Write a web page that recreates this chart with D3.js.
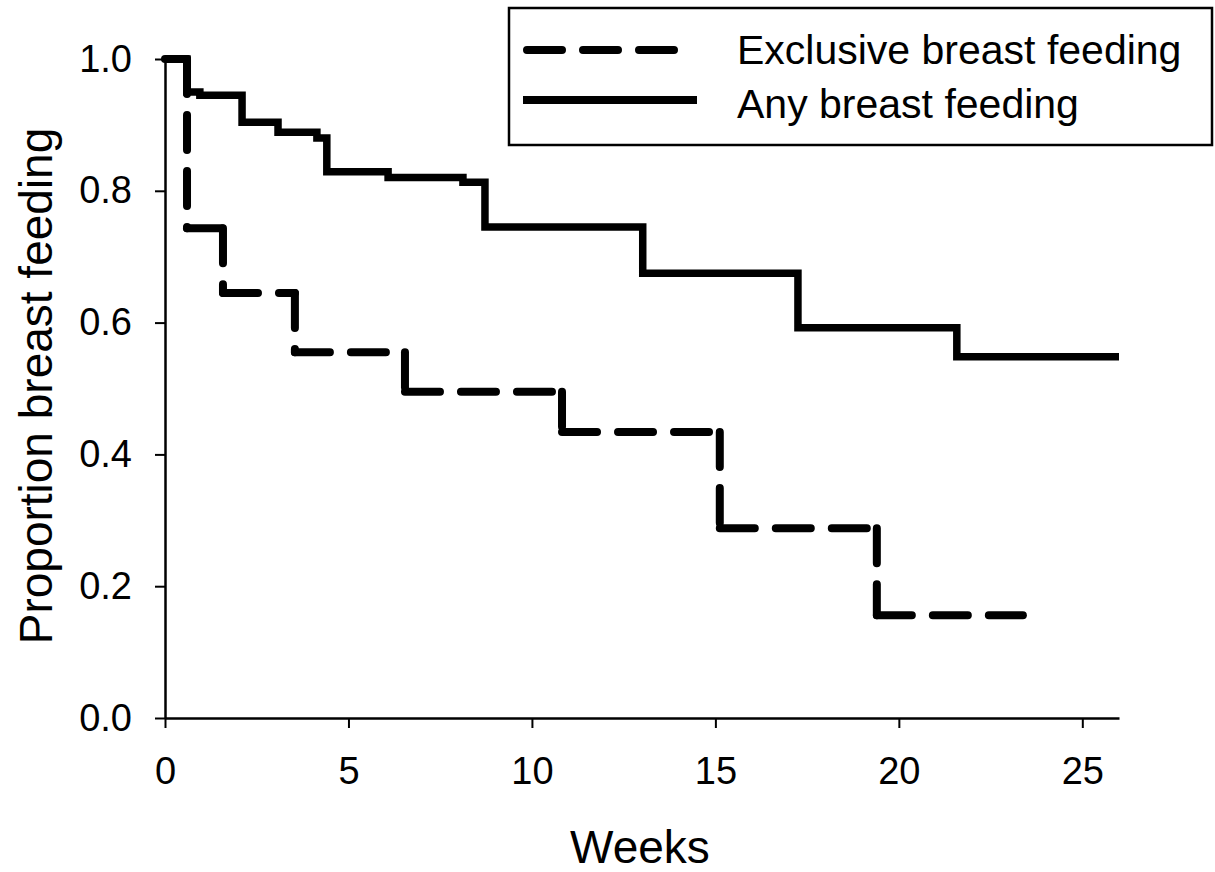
<!DOCTYPE html>
<html>
<head>
<meta charset="utf-8">
<script src="https://cdn.jsdelivr.net/npm/d3@7"></script>
<style>
  body { margin: 0; background: #fff; }
  svg { display: block; font-family: "Liberation Sans", Arial, sans-serif; }
</style>
</head>
<body>
<div id="chart"></div>
<script>
// Kaplan-Meier style step data
var anyWeeks = [0, 0.6, 0.95, 2.1, 3.08, 4.14, 4.41, 6.08, 8.12, 8.72, 13.02, 17.25, 21.58, 26]
var anyProp = [1.0, 0.95, 0.945, 0.904, 0.889, 0.88, 0.829, 0.82, 0.813, 0.745, 0.675, 0.592, 0.548, 0.548]

var exclWeeks = [0, 0.6, 1.58, 3.54, 6.54, 10.82, 15.12, 19.4, 23.38]
var exclProp = [1.0, 0.743, 0.645, 0.555, 0.495, 0.434, 0.288, 0.156, 0.156]

var xTicks = [0, 5, 10, 15, 20, 25]
var yTicks = [0, 0.2, 0.4, 0.6, 0.8, 1.0]
var legendLabels = ['Exclusive breast feeding', 'Any breast feeding']

var width = 1215
var height = 872

var svg = d3
  .select('#chart')
  .append('svg')
  .attr('width', width)
  .attr('height', height)

var x = d3.scaleLinear().domain([0, 26]).range([165, 1119])
var y = d3.scaleLinear().domain([0, 1]).range([718, 59])

// axes
var yAxis = svg
  .append('g')
  .attr('transform', 'translate(' + x(0) + ',0)')
  .call(
    d3.axisLeft(y)
      .tickValues(yTicks)
      .tickFormat(d3.format('.1f'))
      .tickSize(10)
      .tickSizeOuter(0)
      .tickPadding(23)
  )

var xAxis = svg
  .append('g')
  .attr('transform', 'translate(0,' + y(0) + ')')
  .call(
    d3.axisBottom(x)
      .tickValues(xTicks)
      .tickSize(10)
      .tickSizeOuter(0)
      .tickPadding(29)
  )

svg.selectAll('.domain').attr('stroke', '#000').attr('stroke-width', 2.5)
svg.selectAll('.tick line').attr('stroke', '#000').attr('stroke-width', 2)
svg
  .selectAll('.tick text')
  .attr('fill', '#000')
  .attr('font-size', 38)
  .attr('font-family', '"Liberation Sans", Arial, sans-serif')

// axis titles
svg
  .append('text')
  .attr('x', 640)
  .attr('y', 863)
  .attr('text-anchor', 'middle')
  .attr('font-size', 46)
  .text('Weeks')

svg
  .append('text')
  .attr('transform', 'translate(52,' + 386 + ') rotate(-90)')
  .attr('text-anchor', 'middle')
  .attr('font-size', 46)
  .text('Proportion breast feeding')

// any breast feeding: solid step line
var line = d3
  .line()
  .x(d => x(d[0]))
  .y(d => y(d[1]))

var stepLine = d3
  .line()
  .x(d => x(d[0]))
  .y(d => y(d[1]))
  .curve(d3.curveStepAfter)

svg
  .append('path')
  .datum(d3.zip(anyWeeks, anyProp))
  .attr('d', stepLine)
  .attr('fill', 'none')
  .attr('stroke', '#000')
  .attr('stroke-width', 7.5)
  .attr('stroke-linejoin', 'miter')

// exclusive breast feeding: dashed, each piece of the step starts a new dash
var exclSegments = []
for (var i = 0; i < exclWeeks.length - 1; i++) {
  exclSegments.push([[exclWeeks[i], exclProp[i]], [exclWeeks[i + 1], exclProp[i]]])
  if (exclProp[i + 1] !== exclProp[i]) {
    exclSegments.push([[exclWeeks[i + 1], exclProp[i]], [exclWeeks[i + 1], exclProp[i + 1]]])
  }
}

svg
  .selectAll('.excl')
  .data(exclSegments)
  .enter()
  .append('path')
  .attr('class', 'excl')
  .attr('d', line)
  .attr('fill', 'none')
  .attr('stroke', '#000')
  .attr('stroke-width', 8)
  .attr('stroke-linecap', 'round')
  .attr('stroke-dasharray', '35,21')

// legend
var legend = svg.append('g')

legend
  .append('rect')
  .attr('x', 509)
  .attr('y', 8)
  .attr('width', 703)
  .attr('height', 137)
  .attr('fill', '#fff')
  .attr('stroke', '#000')
  .attr('stroke-width', 2.5)

legend
  .append('line')
  .attr('x1', 527)
  .attr('x2', 676)
  .attr('y1', 50)
  .attr('y2', 50)
  .attr('stroke', '#000')
  .attr('stroke-width', 8)
  .attr('stroke-linecap', 'round')
  .attr('stroke-dasharray', '35,21')

legend
  .append('line')
  .attr('x1', 523)
  .attr('x2', 697)
  .attr('y1', 100)
  .attr('y2', 100)
  .attr('stroke', '#000')
  .attr('stroke-width', 8)

legend
  .selectAll('.legend-label')
  .data(legendLabels)
  .enter()
  .append('text')
  .attr('class', 'legend-label')
  .attr('x', 737)
  .attr('y', (d, i) => 64 + i * 54)
  .attr('font-size', 41)
  .text(d => d)
</script>
</body>
</html>
